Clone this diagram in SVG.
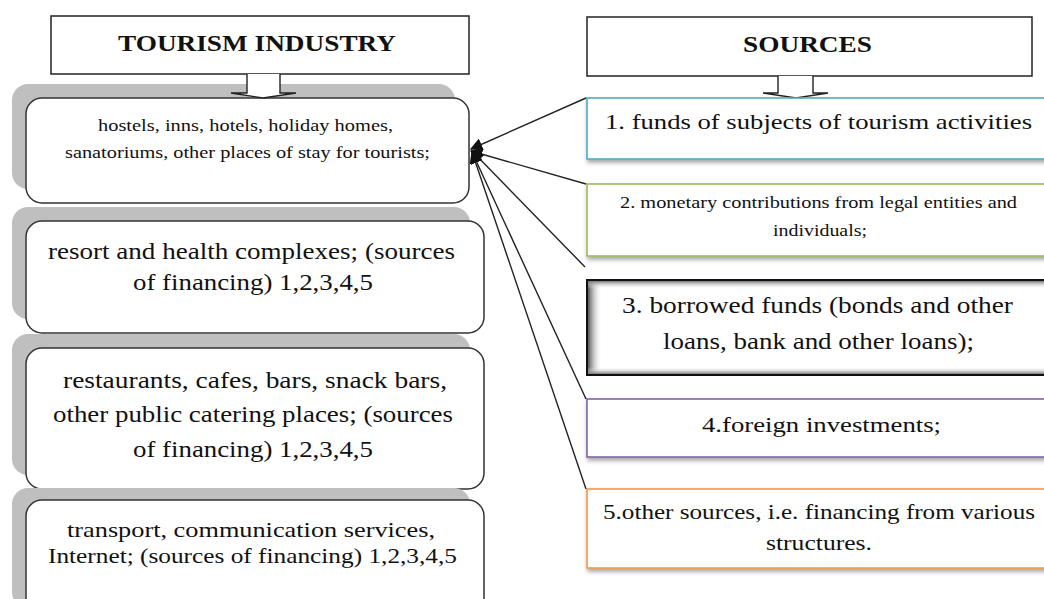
<svg xmlns="http://www.w3.org/2000/svg" width="1044" height="599" viewBox="0 0 1044 599">
<style>
.t{font-family:"Liberation Serif","Times New Roman",serif;fill:#111;}
.h{font-family:"Liberation Serif","Times New Roman",serif;font-weight:bold;fill:#111;font-size:24px;}
.head{fill:#fff;stroke:#222;stroke-width:1.5;}
.lbox{fill:#fff;stroke:#333;stroke-width:1.5;}
.shad{fill:#bfbfbf;}
.rbox{fill:#fff;stroke-width:1.6;}
.blk{fill:#fff;stroke:#222;stroke-width:1.4;}
.conn{stroke:#222;stroke-width:1.4;fill:none;}
</style>
<defs>
<marker id="ah" viewBox="0 0 10 10" refX="9" refY="5" markerWidth="9" markerHeight="9" orient="auto" markerUnits="strokeWidth">
<path d="M0,0 L10,5 L0,10 z" fill="#111"/>
</marker>
<filter id="ds" x="-5%" y="-20%" width="115%" height="160%">
<feDropShadow dx="1" dy="3" stdDeviation="2" flood-color="#000" flood-opacity="0.35"/>
</filter>
<linearGradient id="gl" x1="0" y1="0" x2="1" y2="0">
<stop offset="0" stop-color="#555"/><stop offset="1" stop-color="#fff" stop-opacity="0"/>
</linearGradient>
<linearGradient id="gt" x1="0" y1="0" x2="0" y2="1">
<stop offset="0" stop-color="#777"/><stop offset="1" stop-color="#fff" stop-opacity="0"/>
</linearGradient>
<linearGradient id="gb" x1="0" y1="1" x2="0" y2="0">
<stop offset="0" stop-color="#777"/><stop offset="1" stop-color="#fff" stop-opacity="0"/>
</linearGradient>
</defs>
<rect width="1044" height="599" fill="#fff"/>

<g id="ind-1">
<rect class="shad" x="12" y="84" width="443" height="105" rx="16"/>
<rect class="lbox" x="26" y="98" width="443" height="105" rx="16"/>
<text class="t" font-size="17" x="98" y="131" textLength="295" lengthAdjust="spacingAndGlyphs">hostels, inns, hotels, holiday homes,</text>
<text class="t" font-size="17" x="65" y="158" textLength="365" lengthAdjust="spacingAndGlyphs">sanatoriums, other places of stay for tourists;</text>
</g>

<g id="tourism-industry">
<rect class="head" x="51" y="16" width="418" height="58"/>
<text class="h" x="118" y="51" textLength="278" lengthAdjust="spacingAndGlyphs">TOURISM INDUSTRY</text>
<path class="blk" d="M247,74 L247,93 L231,93 L263,98 L296,93 L280,93 L280,74"/>
</g>

<g id="sources">
<rect class="head" x="587" y="17" width="445" height="59"/>
<text class="h" x="743" y="52" textLength="129" lengthAdjust="spacingAndGlyphs">SOURCES</text>
<path class="blk" d="M778,76 L778,93 L763,93 L796,98 L828,93 L813,93 L813,76"/>
</g>

<g id="ind-2">
<rect class="shad" x="12" y="207" width="458" height="112" rx="16"/>
<rect class="lbox" x="26" y="221" width="458" height="112" rx="16"/>
<text class="t" font-size="23" x="48" y="259" textLength="407" lengthAdjust="spacingAndGlyphs">resort and health complexes; (sources</text>
<text class="t" font-size="23" x="133" y="290" textLength="240" lengthAdjust="spacingAndGlyphs">of financing) 1,2,3,4,5</text>
</g>

<g id="ind-3">
<rect class="shad" x="12" y="334" width="458" height="141" rx="16"/>
<rect class="lbox" x="26" y="348" width="458" height="141" rx="16"/>
<text class="t" font-size="23" x="63" y="388" textLength="384" lengthAdjust="spacingAndGlyphs">restaurants, cafes, bars, snack bars,</text>
<text class="t" font-size="23" x="53" y="422" textLength="400" lengthAdjust="spacingAndGlyphs">other public catering places; (sources</text>
<text class="t" font-size="23" x="133" y="457" textLength="240" lengthAdjust="spacingAndGlyphs">of financing) 1,2,3,4,5</text>
</g>

<g id="ind-4">
<rect class="shad" x="12" y="488" width="458" height="120" rx="16"/>
<rect class="lbox" x="26" y="500" width="458" height="120" rx="16"/>
<text class="t" font-size="21" x="67" y="537" textLength="368" lengthAdjust="spacingAndGlyphs">transport, communication services,</text>
<text class="t" font-size="21" x="48" y="563" textLength="409" lengthAdjust="spacingAndGlyphs">Internet; (sources of financing) 1,2,3,4,5</text>
</g>

<g id="src-1">
<rect class="rbox" x="587" y="98" width="470" height="61" stroke="#4BACC6" filter="url(#ds)"/>
<text class="t" font-size="22" x="605" y="129" textLength="427" lengthAdjust="spacingAndGlyphs">1. funds of subjects of tourism activities</text>
</g>

<g id="src-2">
<rect class="rbox" x="587" y="184" width="470" height="72" stroke="#9BBB59" filter="url(#ds)"/>
<text class="t" font-size="16" x="620" y="208" textLength="397" lengthAdjust="spacingAndGlyphs">2. monetary contributions  from legal entities  and</text>
<text class="t" font-size="16" x="773" y="236" textLength="94" lengthAdjust="spacingAndGlyphs">individuals;</text>
</g>

<g id="src-3">
<rect x="587" y="280" width="470" height="95" fill="#fff"/>
<rect x="588" y="281" width="14" height="93" fill="url(#gl)"/>
<rect x="588" y="281" width="470" height="8" fill="url(#gt)"/>
<rect x="588" y="367" width="470" height="7" fill="url(#gb)"/>
<rect x="587" y="280" width="470" height="95" fill="none" stroke="#111" stroke-width="2"/>
<text class="t" font-size="23" x="622" y="313" textLength="391" lengthAdjust="spacingAndGlyphs">3. borrowed funds (bonds and other</text>
<text class="t" font-size="23" x="663" y="349" textLength="311" lengthAdjust="spacingAndGlyphs">loans, bank and other loans);</text>
</g>

<g id="src-4">
<rect class="rbox" x="587" y="399" width="470" height="58" stroke="#8064A2" filter="url(#ds)"/>
<text class="t" font-size="22" x="702" y="432" textLength="239" lengthAdjust="spacingAndGlyphs">4.foreign investments;</text>
</g>

<g id="src-5">
<rect class="rbox" x="587" y="489" width="470" height="79" stroke="#F79646" filter="url(#ds)"/>
<text class="t" font-size="22" x="603" y="519" textLength="432" lengthAdjust="spacingAndGlyphs">5.other sources, i.e. financing from various</text>
<text class="t" font-size="22" x="766" y="550" textLength="106" lengthAdjust="spacingAndGlyphs">structures.</text>
</g>

<g id="connectors">
<line class="conn" x1="586" y1="98" x2="471" y2="149" marker-end="url(#ah)"/>
<line class="conn" x1="586" y1="184" x2="471" y2="151" marker-end="url(#ah)"/>
<line class="conn" x1="585" y1="267" x2="472" y2="151" marker-end="url(#ah)"/>
<line class="conn" x1="586" y1="399" x2="472" y2="152" marker-end="url(#ah)"/>
<line class="conn" x1="586" y1="489" x2="472" y2="152" marker-end="url(#ah)"/>
</g>
</svg>
